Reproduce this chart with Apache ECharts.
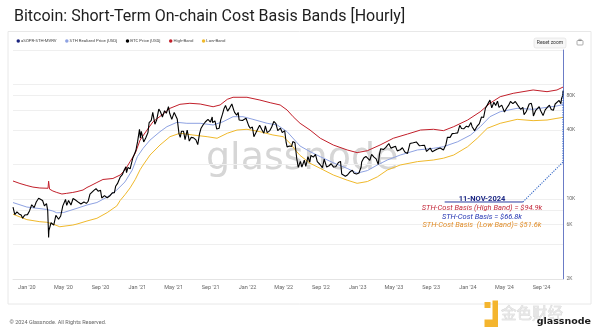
<!DOCTYPE html>
<html><head><meta charset="utf-8">
<script src="https://cdn.jsdelivr.net/npm/echarts@6/dist/echarts.min.js"></script>
<style>html,body{margin:0;padding:0;background:#fff;}#c{width:600px;height:334px;}</style>
</head><body><div id="c"></div>
<script>
// ---------- DATA ----------
const btcPrice = [
['2019-11-16',8500],['2019-11-22',7300],['2019-11-29',7700],['2019-12-06',7400],['2019-12-13',7250],['2019-12-18',6800],['2019-12-25',7250],
['2020-01-03',7300],['2020-01-10',7900],['2020-01-17',8900],['2020-01-25',8400],['2020-02-01',9400],['2020-02-09',10150],['2020-02-14',10300],
['2020-02-22',9700],['2020-02-28',8700],['2020-03-06',9100],['2020-03-10',7900],['2020-03-12',5600],['2020-03-13',4600],['2020-03-14',5300],
['2020-03-18',5400],['2020-03-21',6200],['2020-03-30',5900],['2020-04-06',7200],['2020-04-15',6650],['2020-04-22',7100],['2020-04-29',8700],
['2020-05-08',9900],['2020-05-12',8800],['2020-05-18',9700],['2020-05-26',8850],['2020-06-02',10100],['2020-06-10',9800],['2020-06-20',9350],
['2020-06-28',9050],['2020-07-08',9400],['2020-07-16',9150],['2020-07-22',9550],['2020-07-28',11000],['2020-08-02',11150],['2020-08-10',11900],
['2020-08-17',12300],['2020-08-24',11700],['2020-09-01',11900],['2020-09-05',10200],['2020-09-14',10700],['2020-09-23',10250],['2020-10-01',10600],
['2020-10-10',11300],['2020-10-17',11350],['2020-10-21',12900],['2020-10-27',13600],['2020-11-05',15500],['2020-11-12',16300],['2020-11-18',17800],
['2020-11-24',19100],['2020-11-26',17000],['2020-12-01',18900],['2020-12-08',18300],['2020-12-12',18800],['2020-12-17',22800],['2020-12-21',23500],
['2020-12-27',26500],['2021-01-02',32000],['2021-01-08',40500],['2021-01-11',34000],['2021-01-14',39000],['2021-01-22',31500],['2021-01-29',34200],
['2021-02-05',38000],['2021-02-09',46500],['2021-02-16',48500],['2021-02-21',57000],['2021-02-28',45000],['2021-03-06',49000],['2021-03-13',61000],
['2021-03-18',58000],['2021-03-25',52000],['2021-04-01',59000],['2021-04-07',56000],['2021-04-14',64000],['2021-04-18',56000],['2021-04-25',49500],
['2021-05-03',57000],['2021-05-08',58500],['2021-05-13',50000],['2021-05-19',37000],['2021-05-23',34500],['2021-05-27',39000],['2021-06-03',39000],
['2021-06-08',33000],['2021-06-15',40000],['2021-06-22',32000],['2021-06-28',34500],['2021-07-06',34200],['2021-07-14',32800],['2021-07-20',29800],
['2021-07-26',37200],['2021-07-31',41500],['2021-08-07',44500],['2021-08-14',47000],['2021-08-23',49500],['2021-08-31',47000],['2021-09-06',52000],
['2021-09-07',46500],['2021-09-15',48000],['2021-09-21',40800],['2021-09-29',41500],['2021-10-04',49000],['2021-10-10',55000],['2021-10-15',61500],
['2021-10-20',65500],['2021-10-27',58500],['2021-11-03',62500],['2021-11-10',67500],['2021-11-16',60000],['2021-11-19',57000],['2021-11-26',54000],
['2021-12-01',57000],['2021-12-04',49000],['2021-12-10',47500],['2021-12-15',48500],['2021-12-21',49000],['2021-12-27',50700],['2022-01-05',43500],
['2022-01-10',41500],['2022-01-17',42500],['2022-01-22',35000],['2022-01-29',38000],['2022-02-05',41500],['2022-02-10',44000],['2022-02-18',40000],
['2022-02-24',37500],['2022-03-01',43500],['2022-03-07',38000],['2022-03-15',39300],['2022-03-22',42500],['2022-03-29',47500],['2022-04-05',45500],
['2022-04-11',39500],['2022-04-20',41500],['2022-04-26',38000],['2022-05-04',39500],['2022-05-09',31000],['2022-05-12',28500],['2022-05-20',29000],
['2022-05-27',28800],['2022-05-31',31700],['2022-06-07',31000],['2022-06-13',22500],['2022-06-18',18900],['2022-06-25',21300],['2022-06-30',19000],
['2022-07-08',21800],['2022-07-13',19300],['2022-07-20',23400],['2022-07-26',21000],['2022-07-30',24000],['2022-08-07',23200],['2022-08-14',24500],
['2022-08-20',21200],['2022-08-29',20000],['2022-09-06',18800],['2022-09-12',22300],['2022-09-20',19000],['2022-09-28',19500],['2022-10-05',20300],
['2022-10-13',19000],['2022-10-20',19100],['2022-10-29',20800],['2022-11-05',21300],['2022-11-09',16500],['2022-11-15',16800],['2022-11-21',15800],
['2022-11-28',16200],['2022-12-05',17100],['2022-12-14',17800],['2022-12-20',16800],['2022-12-28',16550],['2023-01-05',16850],['2023-01-12',18900],
['2023-01-14',21000],['2023-01-21',22800],['2023-01-28',23500],['2023-02-03',23400],['2023-02-10',21700],['2023-02-16',24500],['2023-02-24',23200],
['2023-03-03',22400],['2023-03-10',20000],['2023-03-14',24500],['2023-03-18',27500],['2023-03-27',27000],['2023-04-04',28200],['2023-04-14',30500],
['2023-04-21',27800],['2023-04-26',28500],['2023-05-06',28900],['2023-05-12',26300],['2023-05-22',26900],['2023-05-29',28000],['2023-06-06',25700],
['2023-06-15',25000],['2023-06-23',30500],['2023-07-04',31000],['2023-07-14',31500],['2023-07-24',29200],['2023-07-31',29300],['2023-08-10',29500],
['2023-08-17',26000],['2023-08-29',27800],['2023-09-05',25800],['2023-09-11',25000],['2023-09-20',27200],['2023-10-01',27900],['2023-10-12',26800],
['2023-10-20',29800],['2023-10-25',34500],['2023-11-03',34500],['2023-11-10',37200],['2023-11-20',37500],['2023-11-28',37800],['2023-12-05',44000],
['2023-12-11',41200],['2023-12-18',41000],['2023-12-27',43200],['2024-01-03',42500],['2024-01-11',46500],['2024-01-15',42800],['2024-01-23',39500],
['2024-01-31',43000],['2024-02-08',45500],['2024-02-15',52000],['2024-02-22',51500],['2024-02-28',62000],['2024-03-05',66000],['2024-03-08',68000],
['2024-03-14',73000],['2024-03-20',62500],['2024-03-27',70000],['2024-04-02',65500],['2024-04-08',71500],['2024-04-13',63000],['2024-04-17',61500],
['2024-04-22',66000],['2024-05-01',57500],['2024-05-08',62000],['2024-05-15',66000],['2024-05-21',71000],['2024-05-29',68000],['2024-06-06',71000],
['2024-06-14',66000],['2024-06-24',60500],['2024-07-01',63000],['2024-07-05',54500],['2024-07-12',57800],['2024-07-22',67500],['2024-07-29',68500],
['2024-08-02',62000],['2024-08-05',53000],['2024-08-12',59000],['2024-08-24',64000],['2024-08-29',59000],['2024-09-06',53500],['2024-09-13',60000],
['2024-09-20',63000],['2024-09-27',66000],['2024-10-03',60500],['2024-10-10',59500],['2024-10-16',67500],['2024-10-21',68500],['2024-10-29',72500],
['2024-11-04',68000],['2024-11-06',75000],['2024-11-10',80000],['2024-11-11',88000]
];
const sthRealizedPrice = [
['2019-11-16',9300],['2020-01-01',8500],['2020-03-07',8100],['2020-03-27',7850],['2020-04-09',7570],['2020-05-02',7620],['2020-06-15',8290],
['2020-07-18',8860],['2020-08-20',9310],['2020-09-23',10400],['2020-10-25',11980],['2020-11-21',14100],['2020-12-15',17900],['2021-01-01',23400],
['2021-01-20',27700],['2021-02-12',32700],['2021-03-17',38700],['2021-04-09',42800],['2021-05-12',46700],['2021-06-14',45800],['2021-07-28',45800],
['2021-09-09',44300],['2021-10-12',47300],['2021-11-14',52300],['2021-12-17',52300],['2022-01-19',49600],['2022-03-07',45800],['2022-04-09',44300],
['2022-05-12',38700],['2022-06-14',31000],['2022-06-24',29000],['2022-07-27',25900],['2022-08-30',23400],['2022-10-12',20700],['2022-11-27',18500],
['2022-12-30',16800],['2023-02-02',17700],['2023-03-07',19800],['2023-04-09',21900],['2023-05-22',24200],['2023-07-18',26800],['2023-09-09',27700],
['2023-10-12',28600],['2023-11-28',31600],['2024-01-10',36200],['2024-02-11',42800],['2024-03-14',52300],['2024-04-17',57800],['2024-06-12',61900],
['2024-08-04',60700],['2024-09-19',63200],['2024-10-22',64900],['2024-11-11',66800]
];
const highBand = [
['2019-11-16',14350],['2019-12-09',13650],['2020-01-01',13100],['2020-01-21',12700],['2020-02-13',12470],['2020-03-11',12400],['2020-03-13',14300],
['2020-03-16',12200],['2020-03-27',11740],['2020-04-09',11400],['2020-04-26',11050],['2020-05-12',11200],['2020-06-01',11400],['2020-06-15',11600],
['2020-07-05',11980],['2020-07-18',12600],['2020-07-28',12970],['2020-08-20',13930],['2020-09-09',14800],['2020-10-12',15100],['2020-11-05',16200],
['2020-11-21',17900],['2020-12-08',21200],['2020-12-25',25100],['2021-01-10',32700],['2021-02-02',40000],['2021-02-22',47300],['2021-03-23',54100],
['2021-04-19',61900],['2021-05-22',67100],['2021-06-24',68500],['2021-07-28',67500],['2021-09-09',63900],['2021-10-02',66200],['2021-10-26',74200],
['2021-11-14',77300],['2021-12-30',77300],['2022-02-11',73100],['2022-03-17',69300],['2022-04-19',66200],['2022-05-12',59800],['2022-06-01',52300],
['2022-06-24',45800],['2022-07-27',40000],['2022-08-30',33900],['2022-10-12',29600],['2022-11-27',26800],['2022-12-30',25400],['2023-02-02',26400],
['2023-03-16',29600],['2023-04-29',33900],['2023-06-15',36900],['2023-07-28',40000],['2023-09-09',40600],['2023-10-12',39500],['2023-11-15',42800],
['2023-12-31',48900],['2024-02-11',57800],['2024-03-14',68500],['2024-04-17',78200],['2024-05-30',83700],['2024-08-04',89500],['2024-09-19',86500],
['2024-10-22',89500],['2024-11-11',94900]
];
const lowBand = [
['2019-11-16',7360],['2020-01-01',6600],['2020-02-13',6330],['2020-03-07',6260],['2020-03-27',6040],['2020-04-19',5720],['2020-06-01',5920],
['2020-06-15',6040],['2020-07-18',6420],['2020-08-20',6780],['2020-09-23',7600],['2020-10-25',8700],['2020-11-05',9700],['2020-11-21',10900],
['2020-12-08',12500],['2020-12-25',14800],['2021-01-10',18000],['2021-01-20',19800],['2021-02-12',24200],['2021-03-17',29600],['2021-04-19',35000],
['2021-05-22',37500],['2021-07-04',36200],['2021-08-20',35000],['2021-09-22',33900],['2021-10-26',37500],['2021-11-27',40000],['2021-12-30',40600],
['2022-02-11',38700],['2022-03-26',36200],['2022-04-29',35000],['2022-05-22',30600],['2022-06-14',25700],['2022-06-24',24000],['2022-07-27',20500],
['2022-08-30',18500],['2022-10-12',16200],['2022-11-27',14600],['2022-12-30',13700],['2023-02-02',14200],['2023-03-07',15600],['2023-04-09',17900],
['2023-05-22',19800],['2023-07-18',21200],['2023-09-09',21900],['2023-10-12',22700],['2023-11-15',24200],['2023-12-31',28600],['2024-02-01',33900],
['2024-03-05',41400],['2024-04-17',45800],['2024-06-12',49600],['2024-08-04',48300],['2024-09-19',48900],['2024-10-22',50600],['2024-11-11',51600]
];
const xTickDates = ['2020-01-01','2020-05-01','2020-09-01','2021-01-01','2021-05-01','2021-09-01','2022-01-01','2022-05-01','2022-09-01',
  '2023-01-01','2023-05-01','2023-09-01','2024-01-01','2024-05-01','2024-09-01'];
const yLabelValues = [2000, 6000, 10000, 40000, 80000];
const yGridValues = [2000, 4000, 6000, 8000, 10000, 20000, 40000, 60000, 80000, 100000, 200000];
const annotationUnderline = [['2023-10-16', 9410], ['2024-07-01', 9410]];
const annotationArrow = [['2024-07-01', 9410], ['2024-11-11', 21000], ['2024-11-11', 88000]];
const annotationLines = [
  ['11-NOV-2024', '#1f2a86', 'bold'],
  ['STH-Cost Basis (High Band) = $94.9k', '#c3283a', 'italic'],
  ['STH-Cost Basis = $66.8k', '#2537b3', 'italic'],
  ['STH-Cost Basis  (Low Band)= $51.6k', '#e08d2a', 'italic']
];
const legendNames = ['aSOPR-STH-MVRV', 'STH Realized Price [USD]', 'BTC Price [USD]', 'High-Band', 'Low-Band'];
const xMin = '2019-11-16', xMax = '2024-11-11';

// ---------- CHART ----------
const ts = d => Date.parse(d + 'T00:00:00Z');
const toXY = arr => arr.map(([d, v]) => [ts(d), v]);
const chart = echarts.init(document.getElementById('c'), null, {renderer: 'canvas'});
const MONTHS = ['Jan','Feb','Mar','Apr','May','Jun','Jul','Aug','Sep','Oct','Nov','Dec'];
const annY = [199.5, 208.5, 217, 225.2];
const graphics = [
  {type: 'rect', z: -10, silent: true, shape: {x: 8, y: 31.5, width: 583, height: 272.5},
   style: {fill: '#fff', stroke: '#e8e8e8', lineWidth: 1}},
  {type: 'text', z: 0, silent: true, style: {text: 'glassnode', x: 206, y: 159, verticalAlign: 'middle',
   font: '38px "DejaVu Sans"', fill: '#d6d6d6'}},
  {type: 'rect', z: 5, shape: {x: 534, y: 38, width: 32, height: 10, r: 2},
   style: {fill: '#f7f7f7', stroke: '#dddddd', lineWidth: 0.6}},
  {type: 'text', z: 6, style: {text: 'Reset zoom', x: 550, y: 43, align: 'center', verticalAlign: 'middle',
   font: '5px Roboto', fill: '#333'}},
  {type: 'rect', z: 5, shape: {x: 577, y: 40.5, width: 6, height: 4.5, r: 0.8},
   style: {fill: 'none', stroke: '#777', lineWidth: 0.6}},
  {type: 'rect', z: 5, shape: {x: 578.8, y: 39.3, width: 2.4, height: 1.3},
   style: {fill: 'none', stroke: '#777', lineWidth: 0.5}},
  {type: 'text', style: {text: '\u00a9 2024 Glassnode. All Rights Reserved.', x: 9.5, y: 323, verticalAlign: 'middle',
   font: '5.5px Roboto', fill: '#666'}},
  {type: 'rect', shape: {x: 484.5, y: 302, width: 6, height: 6}, style: {fill: '#f4b52e'}},
  {type: 'rect', shape: {x: 492.5, y: 300.5, width: 5.5, height: 26.5}, style: {fill: '#f4b52e'}},
  {type: 'rect', shape: {x: 484.5, y: 319.5, width: 13.5, height: 7.5}, style: {fill: '#f4b52e'}},
  {type: 'text', style: {text: '金色财经', x: 501, y: 313, verticalAlign: 'middle',
   font: '15.5px "Noto Sans CJK SC"', fill: '#e6e6e6', stroke: '#cfcfcf', lineWidth: 0.5}},
  {type: 'text', style: {text: 'glassnode', x: 591, y: 321.5, align: 'right', verticalAlign: 'middle',
   font: 'bold 9.5px "DejaVu Sans"', fill: '#1a1a1a'}}
];
annotationLines.forEach((l, i) => {
  graphics.push({type: 'text', z: 100, style: {text: l[0], x: 482, y: annY[i], align: 'center', verticalAlign: 'middle',
    font: (l[2] === 'bold' ? 'bold ' : 'italic ') + '7.5px Roboto', fill: l[1]}});
});

const option = {
  animation: false,
  textStyle: {fontFamily: 'Roboto'},
  title: {text: 'Bitcoin: Short-Term On-chain Cost Basis Bands [Hourly]', left: 9, top: 4,
    textStyle: {fontSize: 16, fontWeight: 'normal', color: '#1e1e1e', fontFamily: 'Roboto'}},
  legend: {data: legendNames, left: 16.5, top: 39, icon: 'circle', itemWidth: 3.5, itemHeight: 3.5, itemGap: 8.5,
    padding: 0, textStyle: {fontSize: 4.3, color: '#444', padding: [0, 0, 0, -4]}},
  grid: {left: 13, right: 37, top: 50, bottom: 55, containLabel: false},
  xAxis: {
    type: 'value', min: ts(xMin), max: ts(xMax),
    axisLine: {show: true, lineStyle: {color: '#e4e4e4', width: 1}},
    axisTick: {show: false},
    splitLine: {show: false},
    axisLabel: {customValues: xTickDates.map(ts), fontSize: 5.5, color: '#666', margin: 6, hideOverlap: false,
      showMinLabel: true, showMaxLabel: true,
      formatter: v => { const d = new Date(v); return MONTHS[d.getUTCMonth()] + " '" + String(d.getUTCFullYear()).slice(2); }}
  },
  yAxis: {
    type: 'log', logBase: 10, min: 2000, max: 200000, position: 'right',
    axisLine: {show: true, lineStyle: {color: '#6b7cc6', width: 1}},
    axisTick: {show: false, customValues: yGridValues},
    splitLine: {show: true, lineStyle: {color: '#efefef', width: 1}},
    axisLabel: {customValues: yLabelValues, fontSize: 5, color: '#666', margin: 3.5, padding: [0, 0, 6, 0],
      formatter: v => Math.round(v / 1000) + 'K'}
  },
  graphic: graphics,
  series: [
    {name: 'aSOPR-STH-MVRV', type: 'line', data: toXY(annotationArrow), showSymbol: false, z: 20,
     itemStyle: {color: '#1a237e'}, lineStyle: {color: '#3a6cc8', width: 1.1, type: [1.2, 1.2]}},
    {name: 'annotation', type: 'line', data: toXY(annotationUnderline), showSymbol: false, z: 20,
     lineStyle: {color: '#2a3aa0', width: 1}},
    {name: 'STH Realized Price [USD]', type: 'line', data: toXY(sthRealizedPrice), showSymbol: false, z: 3,
     itemStyle: {color: '#8ea2e2'}, lineStyle: {color: '#8ea2e2', width: 1}},
    {name: 'High-Band', type: 'line', data: toXY(highBand), showSymbol: false, z: 3,
     itemStyle: {color: '#c21f2a'}, lineStyle: {color: '#c21f2a', width: 1}},
    {name: 'Low-Band', type: 'line', data: toXY(lowBand), showSymbol: false, z: 3,
     itemStyle: {color: '#f0b92b'}, lineStyle: {color: '#f0b92b', width: 1}},
    {name: 'BTC Price [USD]', type: 'line', data: toXY(btcPrice), showSymbol: false, z: 4,
     itemStyle: {color: '#000'}, lineStyle: {color: '#000', width: 1.1}}
  ]
};
chart.setOption(option);
</script>
</body></html>
